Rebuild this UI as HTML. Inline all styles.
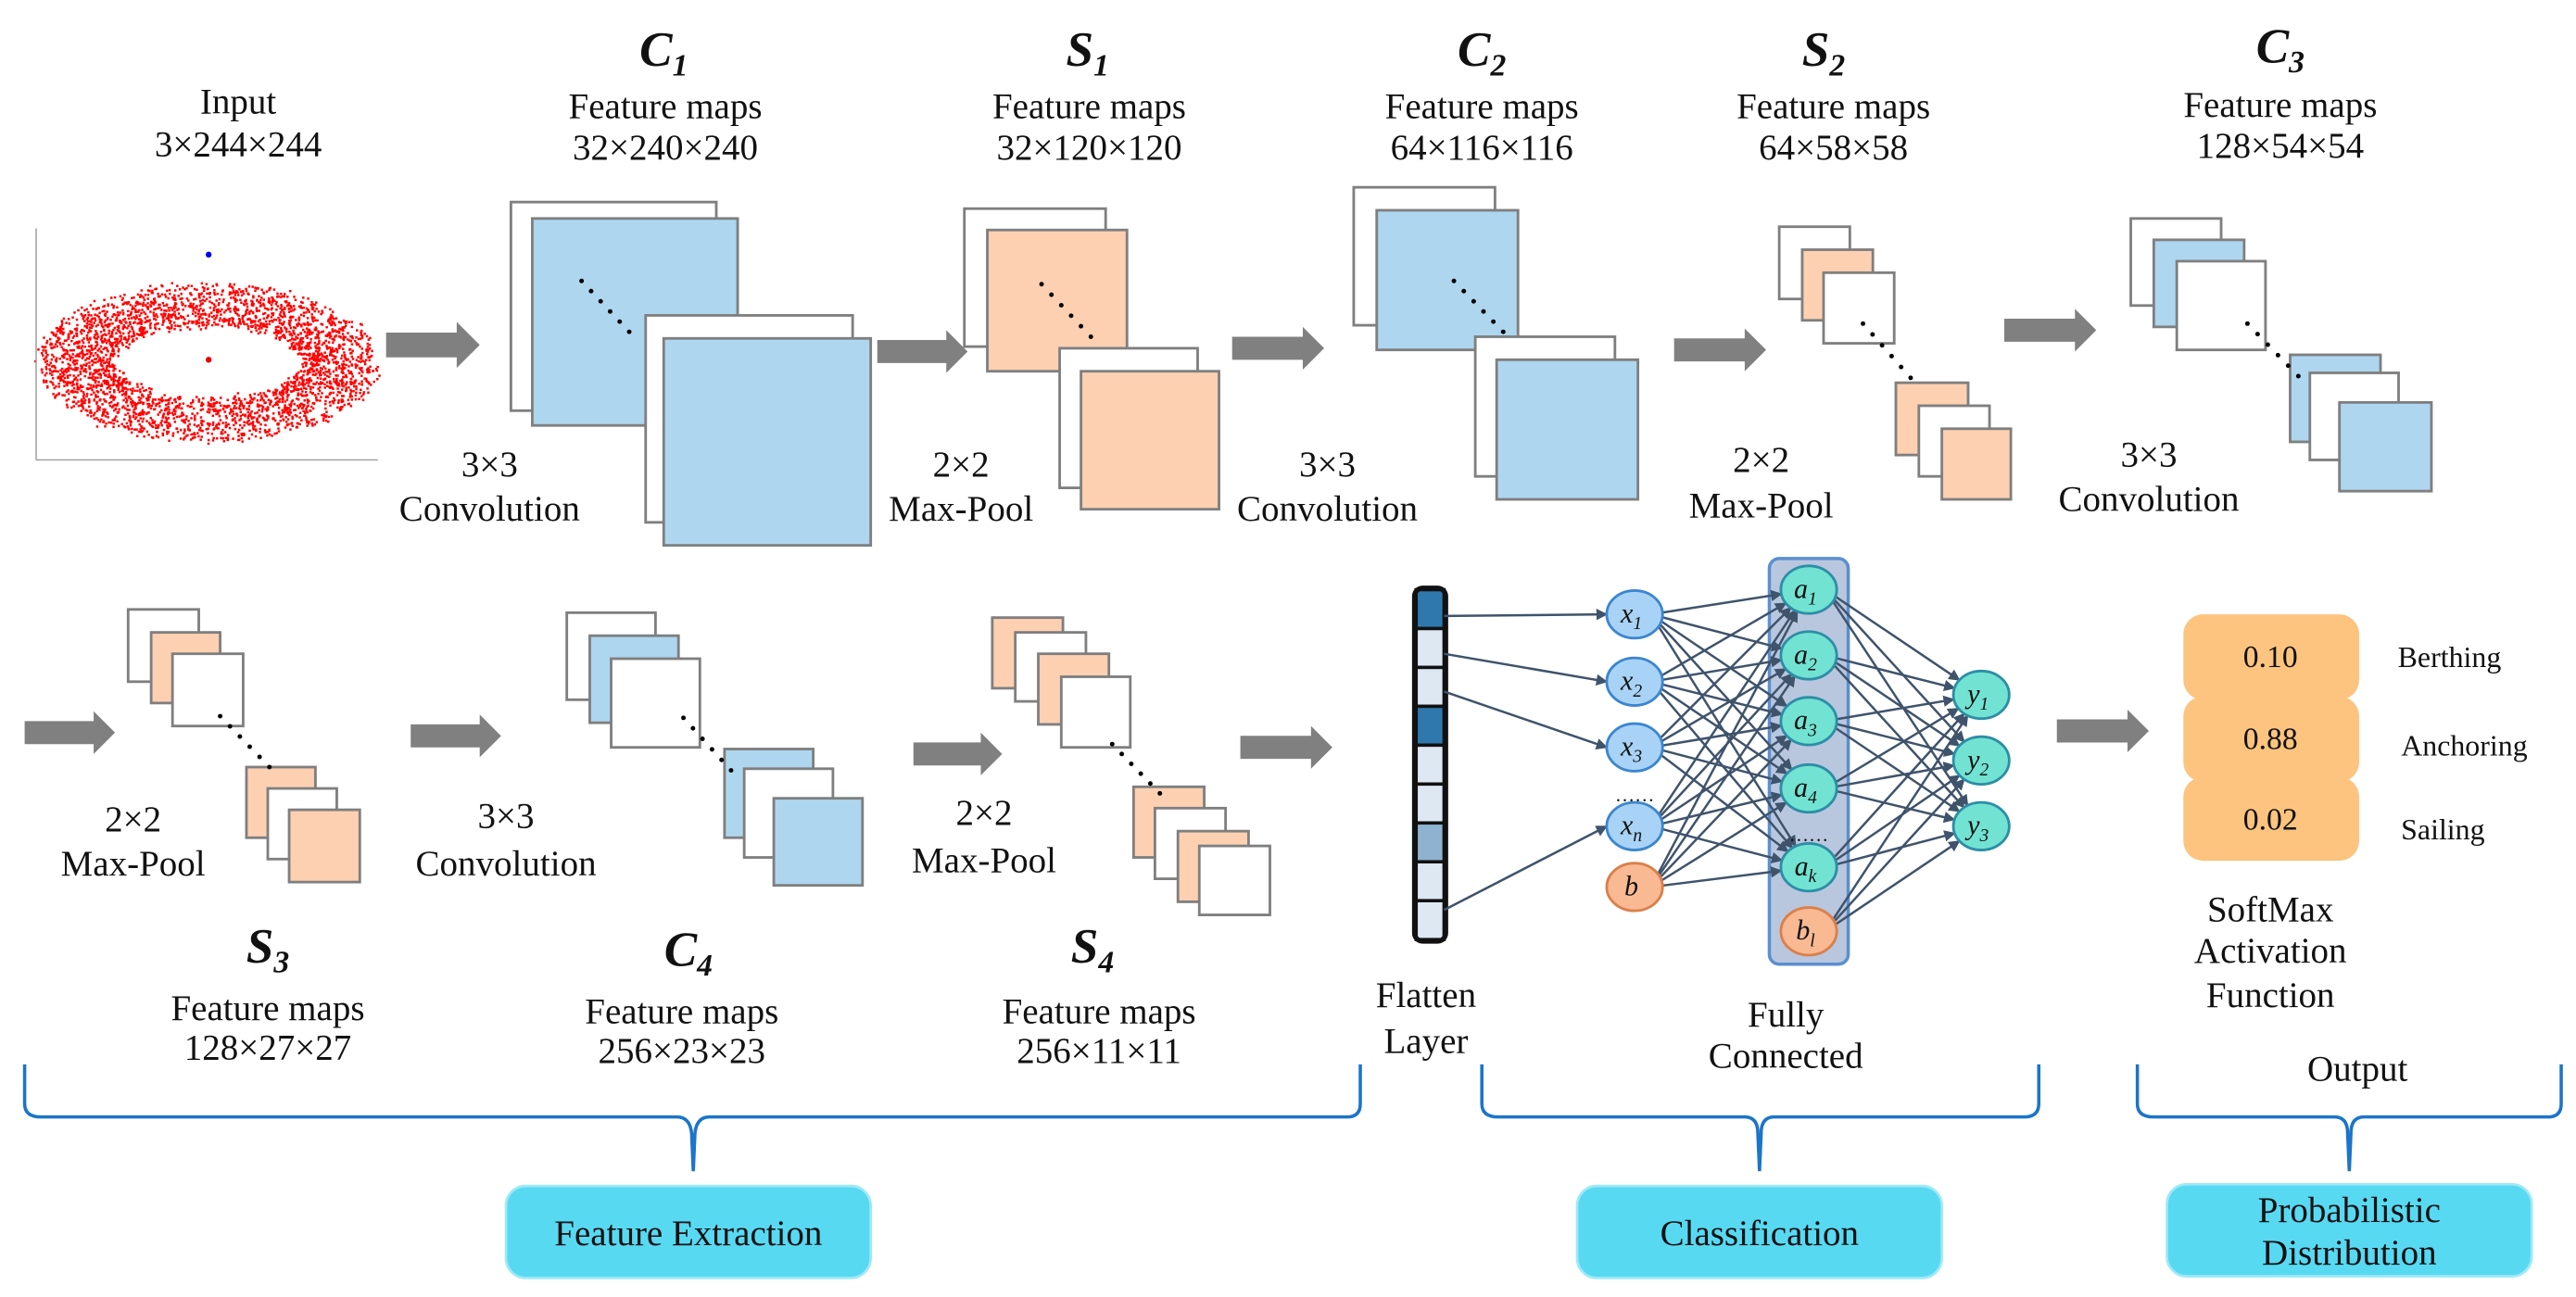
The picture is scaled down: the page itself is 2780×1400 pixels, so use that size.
<!DOCTYPE html>
<html><head><meta charset="utf-8"><style>
html,body{margin:0;padding:0;background:#fff}
svg{display:block}
text{font-family:"Liberation Serif",serif;fill:#111}
.t{font-size:22px;text-anchor:middle}
.h{font-size:30px;font-weight:bold;font-style:italic;text-anchor:middle}
.sub{font-size:19px}
.w{fill:#fff;stroke:#7f7f7f;stroke-width:1.6}
.b{fill:#aed6ef;stroke:#7f7f7f;stroke-width:1.6}
.o{fill:#fdd0b2;stroke:#7f7f7f;stroke-width:1.6}
.ar{fill:#808080}
.br{fill:none;stroke:#1b75c9;stroke-width:2}
.nd{font-size:17px;font-style:italic;text-anchor:middle}
</style></head><body>
<svg id="s" width="2780" height="1400" viewBox="0 0 1568 789.6" xmlns="http://www.w3.org/2000/svg">
<defs>
<marker id="m" viewBox="0 0 10 10" refX="9" refY="5" markerWidth="5" markerHeight="5" orient="auto"><path d="M0,0L10,5L0,10z" fill="#3f536b"/></marker>
</defs>

<text class="t" x="145" y="69">Input</text>
<text class="t" x="145" y="95">3×244×244</text>
<g id="scatter"></g>
<line x1="22" y1="139" x2="22" y2="280" stroke="#999" stroke-width="0.8"/>
<line x1="22" y1="280" x2="230" y2="280" stroke="#999" stroke-width="0.8"/>
<circle cx="127" cy="155" r="1.8" fill="#0000ee"/>
<circle cx="127" cy="219" r="1.8" fill="#e00"/>

<text class="h" x="404" y="40">C<tspan class="sub" dy="6">1</tspan></text>
<text class="t" x="405" y="72">Feature maps</text><text class="t" x="405" y="97">32×240×240</text>
<text class="h" x="662" y="40">S<tspan class="sub" dy="6">1</tspan></text>
<text class="t" x="663" y="72">Feature maps</text><text class="t" x="663" y="97">32×120×120</text>
<text class="h" x="902" y="40">C<tspan class="sub" dy="6">2</tspan></text>
<text class="t" x="902" y="72">Feature maps</text><text class="t" x="902" y="97">64×116×116</text>
<text class="h" x="1110" y="40">S<tspan class="sub" dy="6">2</tspan></text>
<text class="t" x="1116" y="72">Feature maps</text><text class="t" x="1116" y="97">64×58×58</text>
<text class="h" x="1388" y="38">C<tspan class="sub" dy="6">3</tspan></text>
<text class="t" x="1388" y="71">Feature maps</text><text class="t" x="1388" y="96">128×54×54</text>

<rect class="w" x="311" y="123" width="125" height="127"/>
<rect class="b" x="324" y="133" width="125" height="126"/>
<rect class="w" x="393" y="192" width="126" height="126"/>
<rect class="b" x="404" y="206" width="126" height="126"/>
<text class="t" x="298" y="290">3×3</text><text class="t" x="298" y="317">Convolution</text>
<rect class="w" x="587" y="127" width="86" height="84"/>
<rect class="o" x="601" y="140" width="85" height="86"/>
<rect class="w" x="645" y="212" width="84" height="85"/>
<rect class="o" x="658" y="226" width="84" height="84"/>
<text class="t" x="585" y="290">2×2</text><text class="t" x="585" y="317">Max-Pool</text>
<rect class="w" x="824" y="114" width="86" height="84"/>
<rect class="b" x="838" y="128" width="86" height="85"/>
<rect class="w" x="898" y="205" width="85" height="85"/>
<rect class="b" x="911" y="219" width="86" height="85"/>
<text class="t" x="808" y="290">3×3</text><text class="t" x="808" y="317">Convolution</text>
<rect class="w" x="1083" y="138" width="43" height="44"/>
<rect class="o" x="1097" y="152" width="43" height="43"/>
<rect class="w" x="1110" y="166" width="43" height="43"/>
<rect class="o" x="1154" y="233" width="44" height="44"/>
<rect class="w" x="1168" y="247" width="43" height="43"/>
<rect class="o" x="1182" y="261" width="42" height="43"/>
<text class="t" x="1072" y="287">2×2</text><text class="t" x="1072" y="315">Max-Pool</text>
<rect class="w" x="1297" y="133" width="55" height="53"/>
<rect class="b" x="1311" y="146" width="55" height="53"/>
<rect class="w" x="1325" y="159" width="54" height="54"/>
<rect class="b" x="1394" y="216" width="55" height="53"/>
<rect class="w" x="1406" y="227" width="54" height="53"/>
<rect class="b" x="1424" y="245" width="56" height="54"/>
<text class="t" x="1308" y="284">3×3</text><text class="t" x="1308" y="311">Convolution</text>

<rect class="w" x="78" y="371" width="43" height="44"/>
<rect class="o" x="92" y="385" width="42" height="43"/>
<rect class="w" x="105" y="398" width="43" height="44"/>
<rect class="o" x="150" y="467" width="42" height="43"/>
<rect class="w" x="163" y="480" width="42" height="43"/>
<rect class="o" x="176" y="493" width="43" height="44"/>
<text class="t" x="81" y="506">2×2</text><text class="t" x="81" y="533">Max-Pool</text>
<text class="h" x="163" y="586">S<tspan class="sub" dy="6">3</tspan></text>
<text class="t" x="163" y="621">Feature maps</text><text class="t" x="163" y="645">128×27×27</text>
<rect class="w" x="345" y="373" width="54" height="53"/>
<rect class="b" x="359" y="387" width="54" height="53"/>
<rect class="w" x="372" y="401" width="54" height="54"/>
<rect class="b" x="441" y="456" width="54" height="54"/>
<rect class="w" x="453" y="468" width="54" height="54"/>
<rect class="b" x="471" y="486" width="54" height="53"/>
<text class="t" x="308" y="504">3×3</text><text class="t" x="308" y="533">Convolution</text>
<text class="h" x="419" y="588">C<tspan class="sub" dy="6">4</tspan></text>
<text class="t" x="415" y="623">Feature maps</text><text class="t" x="415" y="647">256×23×23</text>
<rect class="o" x="604" y="376" width="43" height="43"/>
<rect class="w" x="618" y="385" width="43" height="42"/>
<rect class="o" x="632" y="398" width="43" height="43"/>
<rect class="w" x="646" y="412" width="42" height="43"/>
<rect class="o" x="690" y="479" width="43" height="43"/>
<rect class="w" x="703" y="492" width="43" height="43"/>
<rect class="o" x="717" y="506" width="43" height="43"/>
<rect class="w" x="730" y="515" width="43" height="42"/>
<text class="t" x="599" y="502">2×2</text><text class="t" x="599" y="531">Max-Pool</text>
<text class="h" x="665" y="586">S<tspan class="sub" dy="6">4</tspan></text>
<text class="t" x="669" y="623">Feature maps</text><text class="t" x="669" y="647">256×11×11</text>

<g id="dots"></g>
<g id="arrows"></g>

<g id="flat"></g>
<text class="t" x="868" y="613">Flatten</text><text class="t" x="868" y="641">Layer</text>

<rect x="1077" y="340" width="48" height="247" rx="6" fill="#b9c7de" stroke="#5b8fcf" stroke-width="2"/>
<g id="edges"></g>
<g id="nodes"></g>
<text x="995" y="488" font-size="12" text-anchor="middle" fill="#555">……</text>
<text x="1101" y="512" font-size="12" text-anchor="middle" fill="#555">……</text>
<text class="t" x="1087" y="625">Fully</text><text class="t" x="1087" y="650">Connected</text>

<rect x="1329" y="374" width="107" height="52" rx="12" fill="#fcc47e"/>
<rect x="1329" y="424" width="107" height="52" rx="12" fill="#fcc47e"/>
<rect x="1329" y="473" width="107" height="51" rx="12" fill="#fcc47e"/>
<text x="1382" y="406" font-size="19" text-anchor="middle">0.10</text>
<text x="1382" y="456" font-size="19" text-anchor="middle">0.88</text>
<text x="1382" y="505" font-size="19" text-anchor="middle">0.02</text>
<text x="1491" y="406" font-size="18" text-anchor="middle">Berthing</text>
<text x="1500" y="460" font-size="18" text-anchor="middle">Anchoring</text>
<text x="1487" y="511" font-size="18" text-anchor="middle">Sailing</text>
<text class="t" x="1382" y="561">SoftMax</text>
<text class="t" x="1382" y="586">Activation</text>
<text class="t" x="1382" y="613">Function</text>
<text class="t" x="1435" y="658">Output</text>

<path class="br" d="M15,648 L15,672 Q15,680 25,680 L412,680 Q420,680 421,690 L422,713 M422,713 L423,690 Q424,680 432,680 L820,680 Q828,680 828,672 L828,648"/>
<path class="br" d="M902,648 L902,672 Q902,680 912,680 L1062,680 Q1070,680 1070,690 L1071,713 L1072,690 Q1072,680 1080,680 L1232,680 Q1241,680 1241,672 L1241,648"/>
<path class="br" d="M1301,648 L1301,672 Q1301,680 1311,680 L1421,680 Q1429,680 1429,690 L1430,713 L1431,690 Q1431,680 1439,680 L1551,680 Q1559,680 1559,672 L1559,648"/>

<rect x="308" y="722" width="222" height="56" rx="12" fill="#58d9f2" stroke="#9ee9f7" stroke-width="1.5"/>
<text class="t" x="419" y="758">Feature Extraction</text>
<rect x="960" y="722" width="222" height="56" rx="12" fill="#58d9f2" stroke="#9ee9f7" stroke-width="1.5"/>
<text class="t" x="1071" y="758">Classification</text>
<rect x="1319" y="721" width="222" height="56" rx="12" fill="#58d9f2" stroke="#9ee9f7" stroke-width="1.5"/>
<text class="t" x="1430" y="744">Probabilistic</text>
<text class="t" x="1430" y="770">Distribution</text>
</svg>
<script>
(function(){
var NS="http://www.w3.org/2000/svg";
function el(p,t,a){var e=document.createElementNS(NS,t);for(var k in a)e.setAttribute(k,a[k]);document.getElementById(p).appendChild(e);return e;}
var seed=7;function r(){seed=(seed*16807)%2147483647;return seed/2147483647;}
for(var i=0;i<3200;i++){var t=r()*6.283,u=r(),x=126+(58+u*45)*Math.cos(t)+(r()-.5)*6,y=220+(22+u*26)*Math.sin(t)+(r()-.5)*5;
el('scatter','rect',{x:x.toFixed(1),y:y.toFixed(1),width:1.4,height:1.4,fill:'#f00'});}
[[354,171,383,202],[634,173,664,205],[885,171,915,202],[1134,197,1163,230],[1368,197,1399,229],[134,436,164,467],[416,437,445,469],[677,453,706,483]].forEach(function(d){
for(var k=0;k<6;k++){el('dots','circle',{cx:d[0]+(d[2]-d[0])*k/5,cy:d[1]+(d[3]-d[1])*k/5,r:1.4,fill:'#000'});}});
[[235,292,210,28],[534,589,214,26],[750,806,212,26],[1019,1075,213,26],[1220,1276,201,26],[15,70,446,26],[250,305,448,26],[556,610,459,26],[755,811,455,26],[1252,1308,445,26]].forEach(function(a){
var x0=a[0],x1=a[1],c=a[2],H=a[3],hx=x1-H*0.5,sh=H*0.27;
el('arrows','path',{class:'ar',d:'M'+x0+','+(c-sh)+'L'+hx+','+(c-sh)+'L'+hx+','+(c-H/2)+'L'+x1+','+c+'L'+hx+','+(c+H/2)+'L'+hx+','+(c+sh)+'L'+x0+','+(c+sh)+'z'});});
var fy=359,fh=213/9,fills=['#2f78ad','#dde8f3','#dde8f3','#2f78ad','#dde8f3','#dde8f3','#8eb2d0','#dde8f3','#dde8f3'];
for(var i=0;i<9;i++)el('flat','rect',{x:862,y:fy+i*fh,width:17,height:fh,fill:fills[i],stroke:'#111','stroke-width':2});
el('flat','rect',{x:861,y:358,width:19,height:215,rx:5,fill:'none',stroke:'#111','stroke-width':3});
var X=[[995,374,'x','1'],[995,415,'x','2'],[995,455,'x','3'],[995,503,'x','n'],[995,540,'b','']],
A=[[1101,359,'a','1'],[1101,399,'a','2'],[1101,439,'a','3'],[1101,480,'a','4'],[1101,528,'a','k'],[1101,567,'b','l']],
Y=[[1206,423,'y','1'],[1206,463,'y','2'],[1206,503,'y','3']];
var rx=17,ry=14.5,col='#3f536b';
function edge(x1,y1,x2,y2){var dx=x2-x1,dy=y2-y1,L=Math.sqrt(dx*dx+dy*dy),ux=dx/L,uy=dy/L;
var k1=1/Math.sqrt(ux*ux/(rx*rx)+uy*uy/(ry*ry));
el('edges','line',{x1:x1,y1:y1,x2:(x2-ux*k1).toFixed(1),y2:(y2-uy*k1).toFixed(1),stroke:col,'stroke-width':1.4,'marker-end':'url(#m)'});}
[[879,375,0],[879,398,1],[879,421,2],[879,554,3]].forEach(function(f){var t=X[f[2]];el('edges','line',{x1:f[0],y1:f[1],x2:t[0]-rx,y2:t[1],stroke:col,'stroke-width':1.4,'marker-end':'url(#m)'});});
X.forEach(function(p){for(var j=0;j<5;j++)edge(p[0]+10,p[1],A[j][0],A[j][1]);});
A.forEach(function(p){Y.forEach(function(q){edge(p[0]+10,p[1],q[0],q[1]);});});
function node(p){var org=p[2]=='b';var fill=org?'#f9b992':(p[2]=='x'?'#a9d3f6':'#72e3d2'),st=org?'#d9804c':(p[2]=='x'?'#3b86cf':'#2c8ea6');
el('nodes','ellipse',{cx:p[0],cy:p[1],rx:rx,ry:ry,fill:fill,stroke:st,'stroke-width':1.6});
var t=el('nodes','text',{x:p[0]-2,y:p[1]+5,class:'nd'});t.textContent=p[2];
if(p[3]){var s2=document.createElementNS(NS,'tspan');s2.setAttribute('font-size','11');s2.setAttribute('dy','4');s2.textContent=p[3];t.appendChild(s2);}}
X.forEach(node);A.forEach(node);Y.forEach(node);
})();
</script>
</body></html>
